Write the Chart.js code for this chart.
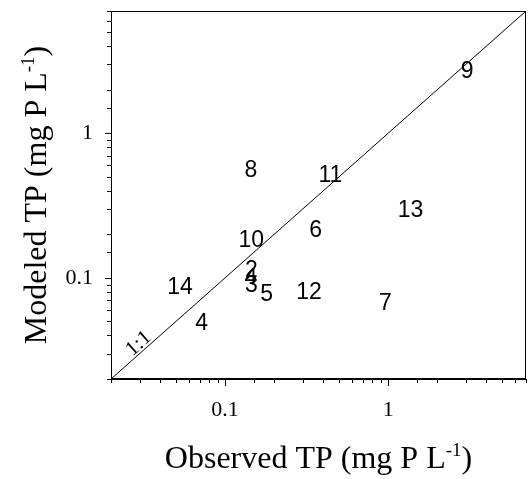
<!DOCTYPE html>
<html>
<head>
<meta charset="utf-8">
<script src="https://cdn.jsdelivr.net/npm/chart.js@4/dist/chart.umd.min.js"></script>
<style>
  html, body { margin: 0; padding: 0; background: #fff; }
  canvas { display: block; }
</style>
</head>
<body>
<canvas id="c" width="528" height="479"></canvas>
<script>
// site labels and observed / modeled TP (mg P L-1)
const siteLabels = ['9', '8', '11', '13', '6', '10', '2', '4', '3', '5', '12', '7', '14', '4'];
const observedTP = [3.05, 0.144, 0.443, 1.37, 0.359, 0.145, 0.145, 0.144, 0.145, 0.180, 0.327, 0.963, 0.053, 0.072];
const modeledTP  = [2.72, 0.556, 0.521, 0.294, 0.214, 0.183, 0.1136, 0.100, 0.0895, 0.0776, 0.0804, 0.0673, 0.0867, 0.0492];

const axisMin = 0.02, axisMax = 7;
const labelledTicks = [0.1, 1];
const oneToOne = [{ x: axisMin, y: axisMin }, { x: axisMax, y: axisMax }];
const oneToOneTag = { x: 0.0296, y: 0.0351, text: '1:1' };

const serif = '"Liberation Serif", "Times New Roman", serif';
const sans = '"Liberation Sans", Arial, sans-serif';

const isDecade = v => Math.abs(Math.log10(v) - Math.round(Math.log10(v))) < 1e-6;
const tickText = v => {
  const hit = labelledTicks.find(t => Math.abs(t - v) < 1e-9);
  return hit === undefined ? '' : String(hit);
};

function drawSupTitle(ctx, x, y, rot, main, sup, tail) {
  ctx.save();
  ctx.translate(x, y);
  ctx.rotate(rot);
  const big = '32px ' + serif, small = '19px ' + serif;
  ctx.font = big; const w1 = ctx.measureText(main).width; const w3 = ctx.measureText(tail).width;
  ctx.font = small; const w2 = ctx.measureText(sup).width;
  let cx = -(w1 + w2 + w3) / 2;
  ctx.fillStyle = '#000';
  ctx.textBaseline = 'alphabetic';
  ctx.textAlign = 'left';
  ctx.font = big; ctx.fillText(main, cx, 0); cx += w1;
  ctx.font = small; ctx.fillText(sup, cx, -12); cx += w2;
  ctx.font = big; ctx.fillText(tail, cx, 0);
  ctx.restore();
}

const decor = {
  id: 'decor',
  afterDraw(chart) {
    const { ctx, chartArea: a, scales } = chart;
    ctx.save();
    ctx.strokeStyle = '#000';
    ctx.lineWidth = 1;
    ctx.strokeRect(a.left + 0.5, a.top + 0.5, a.right - a.left - 1, a.bottom - a.top - 1);

    // tick marks, longer at each decade
    ctx.beginPath();
    scales.x.ticks.forEach(t => {
      const px = Math.round(scales.x.getPixelForValue(t.value)) + 0.5;
      const len = isDecade(t.value) ? 7 : 4;
      ctx.moveTo(px, a.bottom); ctx.lineTo(px, a.bottom + len);
    });
    scales.y.ticks.forEach(t => {
      const py = Math.round(scales.y.getPixelForValue(t.value)) + 0.5;
      const len = isDecade(t.value) ? 6 : 4;
      ctx.moveTo(a.left, py); ctx.lineTo(a.left - len, py);
    });
    ctx.stroke();

    // site numbers at their points
    const meta = chart.getDatasetMeta(0);
    ctx.fillStyle = '#000';
    ctx.font = '23px ' + sans;
    ctx.textAlign = 'center';
    ctx.textBaseline = 'middle';
    meta.data.forEach((el, i) => ctx.fillText(siteLabels[i], el.x, el.y + 1));

    // 1:1 tag along the line
    const p0 = { x: scales.x.getPixelForValue(axisMin), y: scales.y.getPixelForValue(axisMin) };
    const p1 = { x: scales.x.getPixelForValue(axisMax), y: scales.y.getPixelForValue(axisMax) };
    const ang = Math.atan2(p1.y - p0.y, p1.x - p0.x);
    ctx.save();
    ctx.translate(scales.x.getPixelForValue(oneToOneTag.x), scales.y.getPixelForValue(oneToOneTag.y));
    ctx.rotate(ang);
    ctx.font = '21px ' + serif;
    ctx.fillText(oneToOneTag.text, 0, 0);
    ctx.restore();
    ctx.restore();

    drawSupTitle(ctx, (a.left + a.right) / 2, 468, 0, 'Observed TP (mg P L', '-1', ')');
    drawSupTitle(ctx, 46, (a.top + a.bottom) / 2, -Math.PI / 2, 'Modeled TP (mg P L', '-1', ')');
  }
};

const noPad = s => { s.paddingTop = 0; s.paddingBottom = 0; s.paddingLeft = 0; s.paddingRight = 0; };

const logAxis = (fit) => ({
  type: 'logarithmic',
  min: axisMin,
  max: axisMax,
  grid: { display: false, drawTicks: false },
  border: { display: true, color: '#000', width: 1 },
  ticks: {
    autoSkip: false,
    maxRotation: 0,
    color: '#000',
    font: { family: serif, size: 22 },
    callback: v => tickText(v)
  },
  afterFit: s => { fit(s); noPad(s); }
});

const xAxis = logAxis(s => { s.height = 100; });
xAxis.ticks.padding = 18;
const yAxis = logAxis(s => { s.width = 111; });
yAxis.ticks.padding = 18;

new Chart(document.getElementById('c'), {
  type: 'scatter',
  data: {
    datasets: [
      {
        label: 'sites',
        data: observedTP.map((x, i) => ({ x, y: modeledTP[i] })),
        pointRadius: 0,
        showLine: false
      },
      {
        label: '1:1',
        data: oneToOne,
        showLine: true,
        borderColor: '#000',
        borderWidth: 1,
        pointRadius: 0,
        fill: false
      }
    ]
  },
  options: {
    responsive: false,
    animation: false,
    layout: { padding: { top: 11, right: 2, left: 0, bottom: 0 } },
    plugins: { legend: { display: false }, tooltip: { enabled: false } },
    scales: { x: xAxis, y: yAxis }
  },
  plugins: [decor]
});
</script>
</body>
</html>
